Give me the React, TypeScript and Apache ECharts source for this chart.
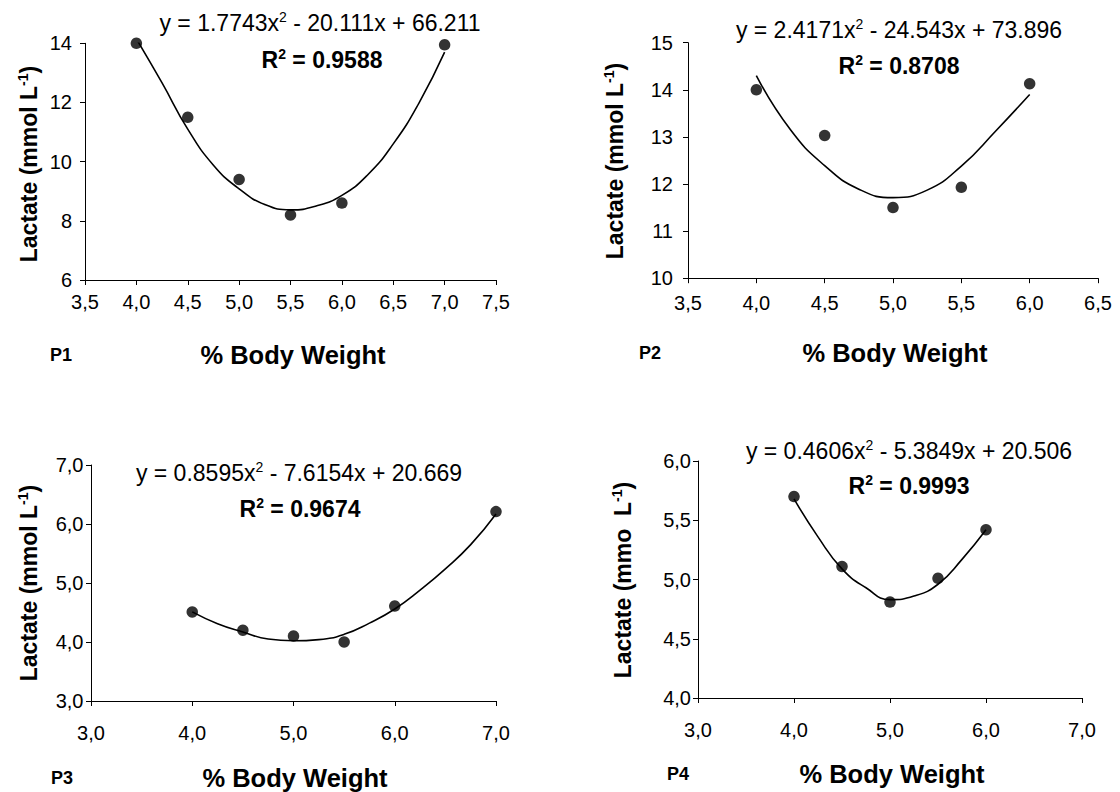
import React, { useEffect, useRef } from 'react';
import * as echarts from 'echarts';

// ---------- data ----------
const p1X = [4.0, 4.5, 5.0, 5.5, 6.0, 7.0];
const p1Y = [14.0, 11.5, 9.4, 8.2, 8.6, 13.95];
const p1CurveX = [4.0, 4.25, 4.5, 4.75, 5.0, 5.25, 5.5, 5.75, 6.0, 6.25, 6.5, 6.75, 7.0];
const p1CurveY = [14.15, 12.66, 11.1, 9.88, 9.08, 8.55, 8.37, 8.5, 8.86, 9.55, 10.6, 11.98, 13.7];

const p2X = [4.0, 4.5, 5.0, 5.5, 6.0];
const p2Y = [14.0, 13.03, 11.5, 11.93, 14.13];
const p2CurveX = [4.0, 4.25, 4.5, 4.75, 5.0, 5.25, 5.5, 5.75, 6.0];
const p2CurveY = [14.3, 13.15, 12.39, 11.89, 11.71, 11.87, 12.38, 13.12, 13.9];

const p3X = [4.0, 4.5, 5.0, 5.5, 6.0, 7.0];
const p3Y = [4.51, 4.2, 4.1, 4.0, 4.61, 6.21];
const p3CurveX = [4.0, 4.25, 4.5, 4.75, 5.0, 5.25, 5.5, 5.75, 6.0, 6.25, 6.5, 6.75, 7.0];
const p3CurveY = [4.51, 4.31, 4.17, 4.05, 4.02, 4.04, 4.13, 4.32, 4.56, 4.88, 5.24, 5.65, 6.17];

const p4X = [4.0, 4.5, 5.0, 5.5, 6.0];
const p4Y = [5.7, 5.11, 4.81, 5.01, 5.42];
const p4CurveX = [4.0, 4.25, 4.5, 4.75, 5.0, 5.25, 5.5, 5.75, 6.0];
const p4CurveY = [5.68, 5.36, 5.09, 4.93, 4.83, 4.86, 4.96, 5.17, 5.42];

const panelNames = ['P1', 'P2', 'P3', 'P4'];
const equations = [
  ['y = 1.7743x', '2', ' - 20.111x + 66.211'],
  ['y = 2.4171x', '2', ' - 24.543x + 73.896'],
  ['y = 0.8595x', '2', ' - 7.6154x + 20.669'],
  ['y = 0.4606x', '2', ' - 5.3849x + 20.506'],
];
const rSquared = ['0.9588', '0.8708', '0.9674', '0.9993'];
const yTitles = [
  ['Lactate (mmol L', '-1', ')'],
  ['Lactate (mmol L', '-1', ')'],
  ['Lactate (mmol L', '-1', ')'],
  ['Lactate (mmo\u00a0\u00a0L', '-1', ')'],
];
const xTitle = '% Body Weight';

// axis scales: [min, max, interval]
const xScales = [[3.5, 7.5, 0.5], [3.5, 6.5, 0.5], [3, 7, 1], [3, 7, 1]];
const yScales = [[6, 14, 2], [10, 15, 1], [3, 7, 1], [4, 6, 0.5]];
const yDecimals = [0, 0, 1, 1];

const scatterData = [
  [p1X, p1Y], [p2X, p2Y], [p3X, p3Y], [p4X, p4Y],
];
const curveData = [
  [p1CurveX, p1CurveY], [p2CurveX, p2CurveY], [p3CurveX, p3CurveY], [p4CurveX, p4CurveY],
];

// ---------- layout ----------
const FONT = "'Liberation Sans', Arial, Helvetica, sans-serif";
const grids = [
  { left: 85, top: 43.3, width: 411, height: 236.7 },
  { left: 688, top: 42.7, width: 410, height: 235.5 },
  { left: 91, top: 465, width: 405, height: 236 },
  { left: 698, top: 461, width: 384, height: 237 },
];
const xLabelMargins = [12, 15, 22, 22];
const yLabelMargins = [13, 15, 7.5, 7];
const eqPos = [[320, 23], [899, 30], [299, 473], [909, 451]];
const r2Pos = [[322, 60], [899, 66], [300, 509], [909, 486]];
const yTitlePos = [[29, 164], [615, 161], [29, 583], [623, 580]];
const xTitlePos = [[293, 355], [895, 353], [295, 778], [892, 774]];
const pLabelPos = [[61, 355], [650, 353], [62, 778], [678, 774]];

const fmt = (v: number, d: number) => v.toFixed(d).replace('.', ',');
const zip = (xs: number[], ys: number[]) => xs.map((x, i) => [x, ys[i]]);

function buildOption() {
  const xAxis: any[] = [];
  const yAxis: any[] = [];
  const series: any[] = [];
  const graphic: any[] = [];

  grids.forEach((_, i) => {
    const [xmin, xmax, xint] = xScales[i];
    const [ymin, ymax, yint] = yScales[i];
    xAxis.push({
      type: 'value', gridIndex: i, min: xmin, max: xmax, interval: xint,
      axisLine: { show: true, onZero: false, lineStyle: { color: '#000', width: 1 } },
      axisTick: { show: true, length: 5, lineStyle: { color: '#000', width: 1 } },
      axisLabel: {
        color: '#000', fontSize: 20, fontFamily: FONT, margin: xLabelMargins[i],
        showMinLabel: true, showMaxLabel: true,
        formatter: (v: number) => fmt(v, 1),
      },
      splitLine: { show: false },
    });
    yAxis.push({
      type: 'value', gridIndex: i, min: ymin, max: ymax, interval: yint,
      axisLine: { show: true, onZero: false, lineStyle: { color: '#000', width: 1 } },
      axisTick: { show: true, length: 5, lineStyle: { color: '#000', width: 1 } },
      axisLabel: {
        color: '#000', fontSize: 20, fontFamily: FONT, margin: yLabelMargins[i],
        showMinLabel: true, showMaxLabel: true,
        formatter: (v: number) => fmt(v, yDecimals[i]),
      },
      splitLine: { show: false },
    });
    series.push({
      type: 'line', xAxisIndex: i, yAxisIndex: i,
      data: zip(curveData[i][0], curveData[i][1]),
      smooth: true, showSymbol: false, symbol: 'none',
      lineStyle: { color: '#000', width: 1.6 }, silent: true, z: 2,
    });
    series.push({
      type: 'scatter', xAxisIndex: i, yAxisIndex: i,
      data: zip(scatterData[i][0], scatterData[i][1]),
      symbol: 'circle', symbolSize: 11.5,
      itemStyle: { color: '#000' }, silent: true, z: 3,
    });

    const eq = equations[i];
    graphic.push({
      type: 'text', x: eqPos[i][0], y: eqPos[i][1], silent: true,
      style: {
        text: `{n|${eq[0]}}{s|${eq[1]}}{n|${eq[2]}}`,
        align: 'center', verticalAlign: 'middle',
        rich: {
          n: { fontSize: 23, fontFamily: FONT, fill: '#000', lineHeight: 27 },
          s: { fontSize: 14, fontFamily: FONT, fill: '#000', lineHeight: 13, verticalAlign: 'top' },
        },
      },
    });
    graphic.push({
      type: 'text', x: r2Pos[i][0], y: r2Pos[i][1], silent: true,
      style: {
        text: `{n|R}{s|2}{n| = ${rSquared[i]}}`,
        align: 'center', verticalAlign: 'middle',
        rich: {
          n: { fontSize: 23, fontFamily: FONT, fontWeight: 'bold', fill: '#000', lineHeight: 27 },
          s: { fontSize: 14, fontFamily: FONT, fontWeight: 'bold', fill: '#000', lineHeight: 13, verticalAlign: 'top' },
        },
      },
    });
    const yt = yTitles[i];
    graphic.push({
      type: 'text', x: yTitlePos[i][0], y: yTitlePos[i][1], rotation: Math.PI / 2, silent: true,
      style: {
        text: `{n|${yt[0]}}{s|${yt[1]}}{n|${yt[2]}}`,
        align: 'center', verticalAlign: 'middle',
        rich: {
          n: { fontSize: 23, fontFamily: FONT, fontWeight: 'bold', fill: '#000', lineHeight: 27 },
          s: { fontSize: 14, fontFamily: FONT, fontWeight: 'bold', fill: '#000', lineHeight: 13, verticalAlign: 'top' },
        },
      },
    });
    graphic.push({
      type: 'text', x: xTitlePos[i][0], y: xTitlePos[i][1], silent: true,
      style: {
        text: xTitle, align: 'center', verticalAlign: 'middle',
        fontSize: 25.5, fontFamily: FONT, fontWeight: 'bold', fill: '#000',
      },
    });
    graphic.push({
      type: 'text', x: pLabelPos[i][0], y: pLabelPos[i][1], silent: true,
      style: {
        text: panelNames[i], align: 'center', verticalAlign: 'middle',
        fontSize: 18, fontFamily: FONT, fontWeight: 'bold', fill: '#000',
      },
    });
  });

  return {
    animation: false,
    backgroundColor: '#ffffff',
    grid: grids.map((g) => ({ ...g, containLabel: false })),
    xAxis, yAxis, series, graphic,
  };
}

export default function App() {
  const ref = useRef<HTMLDivElement>(null);
  useEffect(() => {
    if (!ref.current) return;
    const chart = echarts.init(ref.current, undefined, { renderer: 'svg', width: 1120, height: 792 });
    chart.setOption(buildOption() as any);
    return () => chart.dispose();
  }, []);
  return (
    <div
      ref={ref}
      style={{ position: 'absolute', left: 0, top: 0, width: 1120, height: 792, background: '#fff' }}
    />
  );
}
